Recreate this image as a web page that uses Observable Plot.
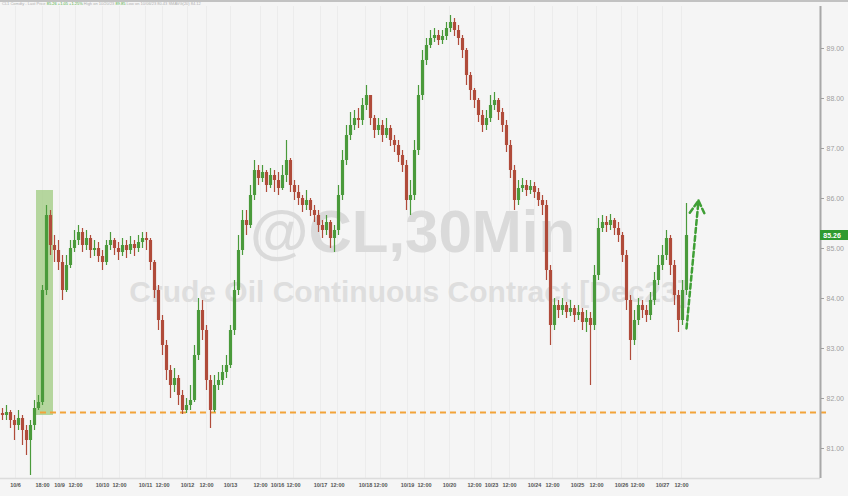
<!DOCTYPE html>
<html><head><meta charset="utf-8">
<script src="https://cdn.jsdelivr.net/npm/d3@7"></script>
<script src="https://cdn.jsdelivr.net/npm/@observablehq/plot@0.6"></script>
<style>
html,body{margin:0;padding:0;background:#f5f5f5;width:848px;height:496px;overflow:hidden;font-family:"Liberation Sans",Arial,sans-serif}
#legendbar{height:6px;border-top:2px solid #c2c2c2;box-sizing:border-box;font-size:4px;line-height:4px;color:#b0b0b0;white-space:nowrap;overflow:hidden;padding-left:2px}
#legendbar .g{color:#4fae3f}
#chart svg{display:block}
</style></head><body>
<div id="legendbar"></div>
<div id="chart"></div>
<script>
// ---- data (2-hour bars, CL continuous, Oct 2023) ----
const firstOpen = 81.70;
const closes = [
81.66,81.72,81.56,81.46,81.60,81.36,81.16,81.46,81.80,81.92,
84.16,85.66,85.06,84.96,84.72,84.16,84.66,85.00,85.16,85.32,
85.06,85.20,84.96,85.00,84.84,84.72,85.06,85.16,85.00,84.92,
85.06,84.96,85.08,85.00,85.12,85.20,85.16,84.72,84.16,83.56,
83.06,82.56,82.26,82.40,82.06,81.76,81.86,81.96,82.86,83.76,
83.36,82.36,81.76,82.26,82.36,82.52,82.66,83.36,84.16,84.96,
85.56,85.46,86.06,86.56,86.40,86.52,86.26,86.46,86.36,86.20,
86.46,86.76,86.26,86.12,86.00,85.86,85.96,85.76,85.66,85.46,
85.36,85.52,85.20,85.36,86.06,86.76,87.26,87.46,87.60,87.56,
87.86,88.06,87.60,87.36,87.46,87.26,87.40,87.16,87.06,86.86,
86.66,85.96,86.06,86.96,88.06,88.76,89.06,89.20,89.26,89.16,
89.24,89.40,89.52,89.36,89.20,88.96,88.46,88.16,87.96,87.66,
87.46,87.60,87.86,87.96,87.72,87.46,87.06,86.56,85.96,86.20,
86.26,86.16,86.24,86.12,85.96,85.86,84.56,83.46,83.86,83.76,
83.86,83.72,83.80,83.66,83.72,83.52,83.60,83.46,84.46,85.40,
85.52,85.46,85.56,85.40,85.26,84.86,83.96,83.16,83.56,83.86,
83.76,83.66,83.96,84.36,84.66,84.86,85.20,84.66,84.06,83.56,
84.16,85.26];
const highs = [
81.80,81.86,81.76,81.66,81.76,81.66,81.46,81.56,81.96,82.06,
84.26,85.86,85.76,85.26,85.16,84.86,84.86,85.16,85.36,85.46,
85.40,85.36,85.26,85.16,85.12,84.96,85.16,85.32,85.20,85.12,
85.20,85.16,85.24,85.16,85.26,85.32,85.32,85.20,84.76,84.26,
83.66,83.16,82.66,82.60,82.46,82.16,82.00,82.26,83.06,84.00,
83.96,83.46,82.46,82.46,82.52,82.66,82.86,83.46,84.36,85.26,
85.76,85.76,86.26,86.76,86.66,86.66,86.56,86.60,86.56,86.52,
86.66,87.16,86.80,86.36,86.26,86.06,86.16,86.00,85.86,85.76,
85.56,85.66,85.56,85.46,86.26,86.96,87.46,87.72,87.76,87.80,
88.00,88.26,88.06,87.66,87.60,87.56,87.60,87.46,87.26,87.16,
86.96,86.76,86.36,87.16,88.26,88.96,89.20,89.36,89.40,89.36,
89.36,89.52,89.66,89.60,89.46,89.26,89.00,88.52,88.20,88.00,
87.76,87.76,88.06,88.12,88.00,87.80,87.56,87.16,86.66,86.36,
86.40,86.36,86.36,86.32,86.20,86.06,85.96,84.66,84.00,83.96,
84.00,83.92,83.96,83.86,83.86,83.80,83.76,83.72,84.66,85.60,
85.66,85.64,85.68,85.60,85.52,85.32,84.96,84.06,83.76,84.00,
83.96,83.86,84.12,84.52,84.86,85.06,85.36,85.26,84.76,84.16,
84.36,85.90];
const lows = [
81.56,81.56,81.40,81.16,81.36,81.06,80.86,80.46,81.36,81.76,
81.86,84.06,84.86,84.72,84.56,83.96,84.12,84.60,84.92,85.06,
84.92,84.96,84.80,84.84,84.72,84.56,84.66,84.96,84.86,84.76,
84.84,84.80,84.88,84.84,84.92,85.00,84.96,84.56,84.00,83.36,
82.86,82.36,82.00,82.12,81.86,81.68,81.70,81.76,81.92,82.76,
83.16,82.16,81.40,81.72,82.16,82.26,82.40,82.60,83.26,84.06,
84.86,85.26,85.40,85.96,86.26,86.32,86.12,86.20,86.12,86.06,
86.16,86.32,86.12,85.96,85.86,85.72,85.76,85.64,85.52,85.32,
85.20,85.26,85.00,84.92,85.26,85.96,86.66,87.16,87.36,87.40,
87.46,87.76,87.46,87.20,87.26,87.12,87.20,87.04,86.92,86.72,
86.52,85.76,85.66,85.96,86.86,87.96,88.66,89.00,89.12,89.06,
89.08,89.16,89.32,89.24,89.06,88.80,88.26,87.96,87.80,87.52,
87.32,87.36,87.52,87.76,87.56,87.32,86.92,86.40,85.76,85.86,
86.12,86.04,86.08,86.00,85.84,85.66,84.36,83.06,83.36,83.60,
83.66,83.60,83.64,83.52,83.56,83.36,83.32,82.26,83.36,84.36,
85.32,85.32,85.36,85.26,85.12,84.72,83.76,82.76,83.06,83.46,
83.60,83.52,83.56,83.86,84.26,84.56,84.76,84.46,83.86,83.32,
83.46,84.06];

const xTickBars = [3.25,10,14.25,18.25,25,29.25,35.75,40,46.25,51,57,64.5,68.75,72.75,79.5,83.75,
  90.75,94.5,101.25,105.5,111.75,118,122.25,126.75,133,137.5,143.75,148.5,154.75,158.75,165,169.75];
const xTickLabels = ["10/6","18:00","10/9","12:00","10/10","12:00","10/11","12:00","10/12","12:00",
  "10/13","12:00","10/16","12:00","10/17","12:00","10/18","12:00","10/19","12:00","10/20","12:00",
  "10/23","12:00","10/24","12:00","10/25","12:00","10/26","12:00","10/27","12:00"];
const yTicks = [81,82,83,84,85,86,87,88,89];
const lastPrice = 85.26;
const preWarLevel = 81.72;          // orange dashed reference level
const gapBox = [{x1: 8.5, x2: 12.75, y1: 81.66, y2: 86.16}];   // highlighted gap bars
const arrowData = [{x1: 171, y1: 83.40, x2: 174, y2: 85.96}];
const watermark = "@CL,30Min";
const watermarkSub = "Crude Oil Continuous Contract [Dec23]";
const legendParts = [["CL1 Comdty - Last Price","n"],["85.26 +1.05 +1.25%","g"],[" High on 10/20/23","n"],["89.85","g"],[" Low on 10/06/23 80.43  SMAVG(20) 84.12","n"]];

// ---- build ----
const xDomain = [-0.5, 204.5];
const yDomain = [80.40, 89.84];
const candles = closes.map((c, i) => ({
  i, open: i ? closes[i - 1] : firstOpen, close: c, high: highs[i], low: lows[i]
}));
const upColor = "#4a9a3b", downColor = "#b04b3a";
const col = d => d.close >= d.open ? upColor : downColor;
const labelMap = new Map(xTickBars.map((b, k) => [b, xTickLabels[k]]));

document.getElementById("legendbar").innerHTML =
  legendParts.map(([t, c]) => `<span class="${c === "g" ? "g" : ""}">${t}</span>`).join(" ");

const chart = Plot.plot({
  width: 848, height: 490,
  marginTop: 0, marginBottom: 18, marginLeft: 0, marginRight: 28,
  x: {type: "linear", domain: xDomain, axis: null},
  y: {domain: yDomain, axis: null},
  style: {background: "#f5f5f5", overflow: "visible", fontFamily: "Liberation Sans, Arial, sans-serif"},
  marks: [
    Plot.ruleX(xTickBars, {stroke: "#ececec", strokeWidth: 1}),
    Plot.text([watermark], {frameAnchor: "middle", dx: 2, dy: -10, fontSize: 60, fontWeight: "bold", fill: "#dadada"}),
    Plot.text([watermarkSub], {frameAnchor: "middle", dx: -2, dy: 50, fontSize: 30, fontWeight: "bold", fill: "#dedede"}),
    Plot.rect(gapBox, {x1: "x1", x2: "x2", y1: "y1", y2: "y2", fill: "#a9d08e", fillOpacity: 0.85}),
    Plot.ruleY([preWarLevel], {x1: 9.5, x2: xDomain[1] + 1.5, stroke: "#f2a33a", strokeWidth: 2, strokeDasharray: "6,4"}),
    Plot.ruleX(candles, {x: "i", y1: "low", y2: "high", stroke: col, strokeWidth: 1.2}),
    Plot.ruleX(candles, {x: "i", y1: "open", y2: "close", stroke: col, strokeWidth: 3.2}),
    Plot.arrow(arrowData, {x1: "x1", y1: "y1", x2: "x2", y2: "y2", stroke: "#3f9f35", strokeWidth: 2.5, strokeDasharray: "5,3", headLength: 9}),
    Plot.ruleY([yDomain[0]], {stroke: "#dcdcdc", strokeWidth: 1.5}),
    Plot.ruleX([xDomain[1]], {stroke: "#a8a8a8", strokeWidth: 2}),
    Plot.axisY(yTicks, {anchor: "right", tickFormat: d => d.toFixed(2), fontSize: 7, tickSize: 3, tickPadding: 3, color: "#a0a0a0"}),
    Plot.axisX(xTickBars, {anchor: "bottom", tickSize: 0, tickPadding: 5, fontSize: 5.5, fontWeight: "bold", fill: "#555", tickFormat: d => labelMap.get(d), label: null}),
    Plot.rect([lastPrice], {x1: xDomain[1], x2: xDomain[1] + 7, y1: d => d - 0.1, y2: d => d + 0.1, fill: "#2f9a2f"}),
    Plot.text([lastPrice], {x: xDomain[1] + 0.7, y: d => d, text: d => d.toFixed(2), textAnchor: "start", fontSize: 7, fill: "white", fontWeight: "bold"})
  ]
});
document.getElementById("chart").appendChild(chart);
</script></body></html>
